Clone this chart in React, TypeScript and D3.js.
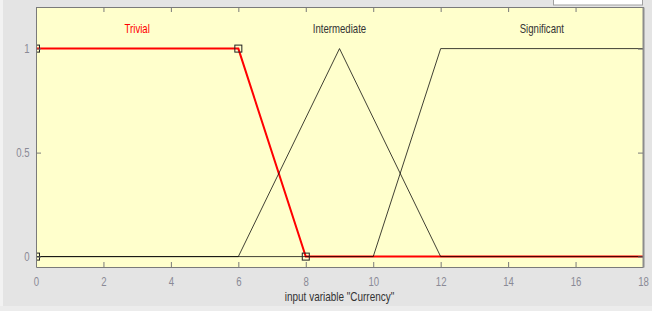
import * as d3 from 'd3';
import { useEffect, useRef } from 'react';

// membership functions of input variable "Currency"
const trivialX = [0, 6, 8, 18];
const trivialY = [1, 1, 0, 0];
const intermediateX = [0, 6, 9, 12, 18];
const intermediateY = [0, 0, 1, 0, 0];
const significantX = [0, 10, 12, 18];
const significantY = [0, 0, 1, 1];
// vertices of the selected (red) function that get square handles
const handleX = [0, 6, 8, 0];
const handleY = [1, 1, 0, 0];

const mfNames = ['Trivial', 'Intermediate', 'Significant'];
const mfLabelX = [3, 9, 15];
const xTicks = [0, 2, 4, 6, 8, 10, 12, 14, 16, 18];
const yTicks = [0, 0.5, 1];
const yTickLabels = ['0', '0.5', '1'];

const FONT = "'Liberation Sans', Arial, sans-serif";
const NARROW = 0.8; // the original uses a condensed face

const App = () => {
  const svgRef = useRef<SVGSVGElement | null>(null);

  useEffect(() => {
    const svg = d3.select(svgRef.current);
    svg.selectAll('*').remove();
    const W = 652;
    const H = 311;
    const margin = { top: 7, right: 9, bottom: 44, left: 36 };
    const width = W - margin.left - margin.right;
    const height = H - margin.top - margin.bottom;

    // panel background
    svg.append('rect').attr('width', W).attr('height', H).attr('fill', '#e4e4e4');
    svg.append('rect').attr('width', 3).attr('height', H).attr('fill', '#f2f2f2');
    svg.append('rect').attr('x', 0).attr('y', 306).attr('width', W).attr('height', 5).attr('fill', '#ececec');

    // partial white box at the top right
    svg.append('rect')
      .attr('x', 553.5).attr('y', -2).attr('width', 89).attr('height', 7)
      .attr('fill', '#ffffff').attr('stroke', '#a0a0a0');

    const x = d3.scaleLinear().domain([0, 18]).range([0, width]);
    const y = d3.scaleLinear().domain([-0.05, 1.2]).range([height, 0]);

    const g = svg.append('g').attr('transform', `translate(${margin.left},${margin.top})`);

    g.append('rect')
      .attr('width', width).attr('height', height)
      .attr('fill', '#ffffcc');

    svg.append('defs').append('clipPath').attr('id', 'plot-clip')
      .append('rect').attr('width', width).attr('height', height);

    const plot = g.append('g').attr('clip-path', 'url(#plot-clip)');

    const line = d3.line<[number, number]>()
      .x(d => x(d[0]))
      .y(d => y(d[1]));

    const zip = (xs: number[], ys: number[]) => xs.map((v, i) => [v, ys[i]] as [number, number]);

    plot.append('path')
      .datum(zip(trivialX, trivialY))
      .attr('d', line)
      .attr('fill', 'none')
      .attr('stroke', '#ff0000')
      .attr('stroke-width', 2);

    [zip(intermediateX, intermediateY), zip(significantX, significantY)].forEach(pts => {
      plot.append('path')
        .datum(pts)
        .attr('d', line)
        .attr('fill', 'none')
        .attr('stroke', '#000000')
        .attr('stroke-opacity', 0.75)
        .attr('stroke-width', 1);
    });

    plot.selectAll('.handle')
      .data(zip(handleX, handleY))
      .enter()
      .append('rect')
      .attr('class', 'handle')
      .attr('x', d => x(d[0]) - 3.5)
      .attr('y', d => y(d[1]) - 3.5)
      .attr('width', 7)
      .attr('height', 7)
      .attr('fill', 'none')
      .attr('stroke', '#222')
      .attr('stroke-width', 1);

    // function names
    g.selectAll('.mf-label')
      .data(mfNames)
      .enter()
      .append('text')
      .attr('class', 'mf-label')
      .attr('transform', (d, i) => `translate(${x(mfLabelX[i])},26) scale(${NARROW},1)`)
      .attr('text-anchor', 'middle')
      .style('font-family', FONT)
      .style('font-size', '12px')
      .attr('fill', (d, i) => (i === 0 ? '#ff0000' : '#333333'))
      .text(d => d);

    // axes (MATLAB style box with inward ticks)
    const bottom = g.append('g')
      .attr('transform', `translate(0, ${height})`)
      .call(d3.axisBottom(x).tickValues(xTicks).tickSizeInner(-5).tickSizeOuter(0).tickPadding(10));
    const top = g.append('g')
      .call(d3.axisTop(x).tickValues(xTicks).tickSizeInner(-5).tickSizeOuter(0).tickFormat(() => ''));
    const left = g.append('g')
      .call(d3.axisLeft(y).tickValues(yTicks).tickSizeInner(-5).tickSizeOuter(0).tickPadding(8)
        .tickFormat((d, i) => yTickLabels[i]));
    const right = g.append('g')
      .attr('transform', `translate(${width},0)`)
      .call(d3.axisRight(y).tickValues(yTicks).tickSizeInner(-5).tickSizeOuter(0).tickFormat(() => ''));

    [bottom, top, left, right].forEach(ax => {
      ax.select('.domain').attr('stroke', '#7a7a7a');
      ax.selectAll('.tick line').attr('stroke', '#7a7a7a');
      ax.selectAll('.tick text')
        .attr('fill', '#8a8a96')
        .attr('transform', `scale(${NARROW},1)`)
        .style('font-family', FONT)
        .style('font-size', '12px');
    });
    right.select('.domain').attr('stroke', '#8c8c8c').attr('stroke-width', 2);

    svg.append('text')
      .attr('transform', `translate(${margin.left + width / 2},301) scale(0.83,1)`)
      .attr('text-anchor', 'middle')
      .style('font-family', FONT)
      .style('font-size', '12px')
      .attr('fill', '#333333')
      .text('input variable "Currency"');
  }, []);

  return (
    <svg
      ref={svgRef}
      width={652}
      height={311}
      style={{ position: 'absolute', left: 0, top: 0 }}
    ></svg>
  );
};

export default App;
